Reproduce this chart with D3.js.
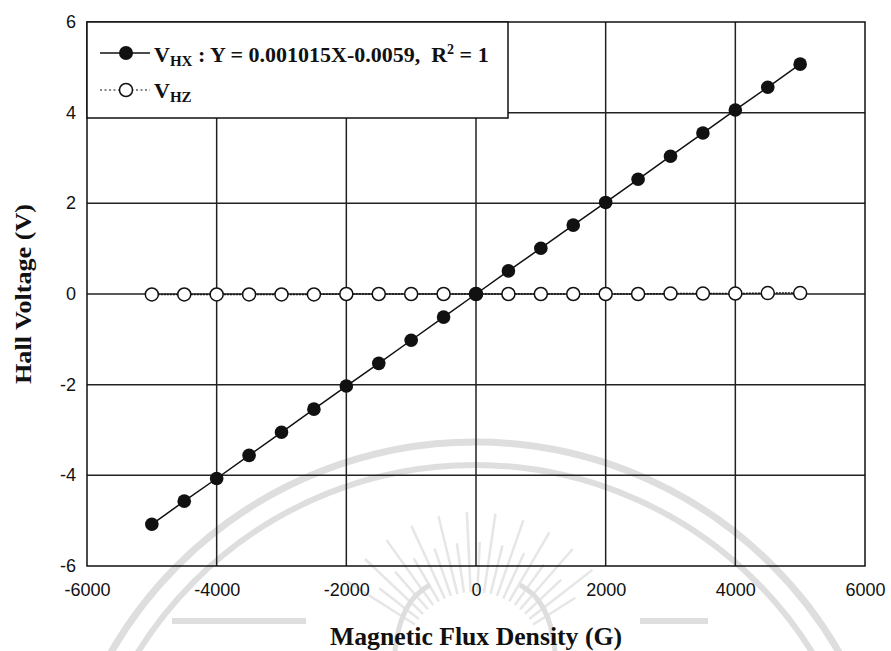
<!DOCTYPE html>
<html>
<head>
<meta charset="utf-8">
<script src="https://cdn.jsdelivr.net/npm/d3@7"></script>
<style>
  html, body { margin: 0; padding: 0; background: #fff; }
  svg { display: block; }
</style>
</head>
<body>
<svg id="chart" width="891" height="651"></svg>
<script>
// Magnetic flux density (G) at each measurement step
const fluxDensity = [-5000, -4500, -4000, -3500, -3000, -2500, -2000, -1500, -1000, -500,
                     0, 500, 1000, 1500, 2000, 2500, 3000, 3500, 4000, 4500, 5000];
// Hall voltage on the X electrodes (V)
const vHX = [-5.08, -4.57, -4.07, -3.56, -3.05, -2.54, -2.03, -1.53, -1.02, -0.51,
             0.00, 0.51, 1.01, 1.52, 2.02, 2.53, 3.04, 3.55, 4.06, 4.56, 5.07];
// Hall voltage on the Z electrodes (V)
const vHZ = [-0.01, -0.01, -0.01, -0.01, -0.01, -0.01, 0.00, 0.00, 0.00, 0.00,
             0.00, 0.00, 0.00, 0.00, 0.00, 0.00, 0.01, 0.01, 0.01, 0.02, 0.02];
const xTicks = [-6000, -4000, -2000, 0, 2000, 4000, 6000];
const yTicks = [-6, -4, -2, 0, 2, 4, 6];

const svg = d3.select("#chart");
const plot = { left: 87, right: 865, top: 22, bottom: 566 };

const x = d3.scaleLinear().domain([-6000, 6000]).range([plot.left, plot.right]);
const y = d3.scaleLinear().domain([-6, 6]).range([plot.bottom, plot.top]);

// faint institutional seal in the background
const seal = svg.append("g").attr("fill", "none").attr("stroke", "#dedede");
seal.append("circle").attr("cx", 475).attr("cy", 862).attr("r", 420).attr("stroke-width", 7);
seal.append("circle").attr("cx", 475).attr("cy", 862).attr("r", 397).attr("stroke-width", 6);
d3.range(22).forEach(i => {
  const a = Math.PI * (0.18 + 0.64 * i / 21);
  const r0 = 70, r1 = 150 - (i % 2) * 30;
  seal.append("line")
    .attr("x1", 474 - r0 * Math.cos(a)).attr("y1", 662 - r0 * Math.sin(a))
    .attr("x2", 474 - r1 * Math.cos(a)).attr("y2", 662 - r1 * Math.sin(a))
    .attr("stroke-width", 2.5).attr("stroke", "#e6e6e6");
});
seal.append("line").attr("x1", 172).attr("x2", 306).attr("y1", 621).attr("y2", 621).attr("stroke-width", 6);
seal.append("line").attr("x1", 640).attr("x2", 708).attr("y1", 621).attr("y2", 621).attr("stroke-width", 6);
seal.append("path").attr("d", "M395,651 Q400,600 430,585").attr("stroke-width", 5);
seal.append("path").attr("d", "M555,651 Q550,600 520,585").attr("stroke-width", 5);

// gridlines
const grid = svg.append("g").attr("stroke", "#222").attr("stroke-width", 1.5);
grid.selectAll("line.gx").data(xTicks.slice(1, -1)).join("line")
  .attr("x1", d => x(d)).attr("x2", d => x(d))
  .attr("y1", plot.top).attr("y2", plot.bottom);
grid.selectAll("line.gy").data(yTicks.slice(1, -1)).join("line")
  .attr("x1", plot.left).attr("x2", plot.right)
  .attr("y1", d => y(d)).attr("y2", d => y(d));

// frame
svg.append("rect")
  .attr("x", plot.left).attr("y", plot.top)
  .attr("width", plot.right - plot.left).attr("height", plot.bottom - plot.top)
  .attr("fill", "none").attr("stroke", "#111").attr("stroke-width", 1.5);

// axes (labels only, no tick marks); plain hyphen for negatives
const fmt = d => String(d);
const xAxis = svg.append("g")
  .attr("transform", `translate(0,${plot.bottom})`)
  .call(d3.axisBottom(x).tickValues(xTicks).tickSize(0).tickPadding(17).tickFormat(fmt));
const yAxis = svg.append("g")
  .attr("transform", `translate(${plot.left},0)`)
  .call(d3.axisLeft(y).tickValues(yTicks).tickSize(0).tickPadding(11).tickFormat(fmt));
[xAxis, yAxis].forEach(a => {
  a.select(".domain").remove();
  a.selectAll("text")
    .attr("font-family", "Liberation Sans, Arial, sans-serif")
    .attr("font-size", 18).attr("fill", "#111");
});
yAxis.selectAll("text").attr("dy", "0.3em");

const pts = fluxDensity.map((b, i) => ({ b, hx: vHX[i], hz: vHZ[i] }));

// V_HZ series: dotted line with open circles
svg.append("path").datum(pts)
  .attr("fill", "none").attr("stroke", "#111").attr("stroke-width", 1.5)
  .attr("stroke-dasharray", "2,1")
  .attr("d", d3.line().x(d => x(d.b)).y(d => y(d.hz)));

// V_HX series: solid line with filled circles
svg.append("path").datum(pts)
  .attr("fill", "none").attr("stroke", "#111").attr("stroke-width", 1.5)
  .attr("d", d3.line().x(d => x(d.b)).y(d => y(d.hx)));

svg.append("g").selectAll("circle").data(pts).join("circle")
  .attr("cx", d => x(d.b)).attr("cy", d => y(d.hz)).attr("r", 6.5)
  .attr("fill", "#fff").attr("stroke", "#111").attr("stroke-width", 1.5);
svg.append("g").selectAll("circle").data(pts).join("circle")
  .attr("cx", d => x(d.b)).attr("cy", d => y(d.hx)).attr("r", 6.8)
  .attr("fill", "#111");

// legend
const lg = svg.append("g");
lg.append("rect").attr("x", plot.left).attr("y", plot.top)
  .attr("width", 421).attr("height", 96)
  .attr("fill", "#fff").attr("stroke", "#111").attr("stroke-width", 1.5);
lg.append("line").attr("x1", 100).attr("x2", 150).attr("y1", 53).attr("y2", 53)
  .attr("stroke", "#111").attr("stroke-width", 1.5);
lg.append("circle").attr("cx", 126).attr("cy", 53).attr("r", 7).attr("fill", "#111");
lg.append("line").attr("x1", 100).attr("x2", 150).attr("y1", 90).attr("y2", 90)
  .attr("stroke", "#111").attr("stroke-width", 1.2).attr("stroke-dasharray", "2,2.5");
lg.append("circle").attr("cx", 126).attr("cy", 90).attr("r", 6.5)
  .attr("fill", "#fff").attr("stroke", "#111").attr("stroke-width", 1.5);

const serif = "Liberation Serif, Times New Roman, serif";
const t1 = lg.append("text").attr("x", 154).attr("y", 62)
  .attr("font-family", serif).attr("font-weight", "bold").attr("font-size", 22).attr("fill", "#111")
  .attr("xml:space", "preserve").style("white-space", "pre");
t1.append("tspan").text("V");
t1.append("tspan").attr("font-size", 15).attr("dy", 4).text("HX");
t1.append("tspan").attr("dy", -4).text(" : Y = 0.001015X-0.0059,  R");
t1.append("tspan").attr("font-size", 14).attr("dy", -8).text("2");
t1.append("tspan").attr("dy", 8).text(" = 1");

const t2 = lg.append("text").attr("x", 154).attr("y", 98)
  .attr("font-family", serif).attr("font-weight", "bold").attr("font-size", 22).attr("fill", "#111");
t2.append("tspan").text("V");
t2.append("tspan").attr("font-size", 15).attr("dy", 4).text("HZ");

// axis titles
svg.append("text").attr("x", 476).attr("y", 645)
  .attr("text-anchor", "middle")
  .attr("font-family", serif).attr("font-weight", "bold").attr("font-size", 25).attr("fill", "#111")
  .attr("textLength", 292).attr("lengthAdjust", "spacingAndGlyphs")
  .text("Magnetic Flux Density (G)");
svg.append("text")
  .attr("transform", "translate(31,294) rotate(-90)")
  .attr("text-anchor", "middle")
  .attr("font-family", serif).attr("font-weight", "bold").attr("font-size", 24).attr("fill", "#111")
  .attr("textLength", 180).attr("lengthAdjust", "spacingAndGlyphs")
  .text("Hall Voltage (V)");
</script>
</body>
</html>
